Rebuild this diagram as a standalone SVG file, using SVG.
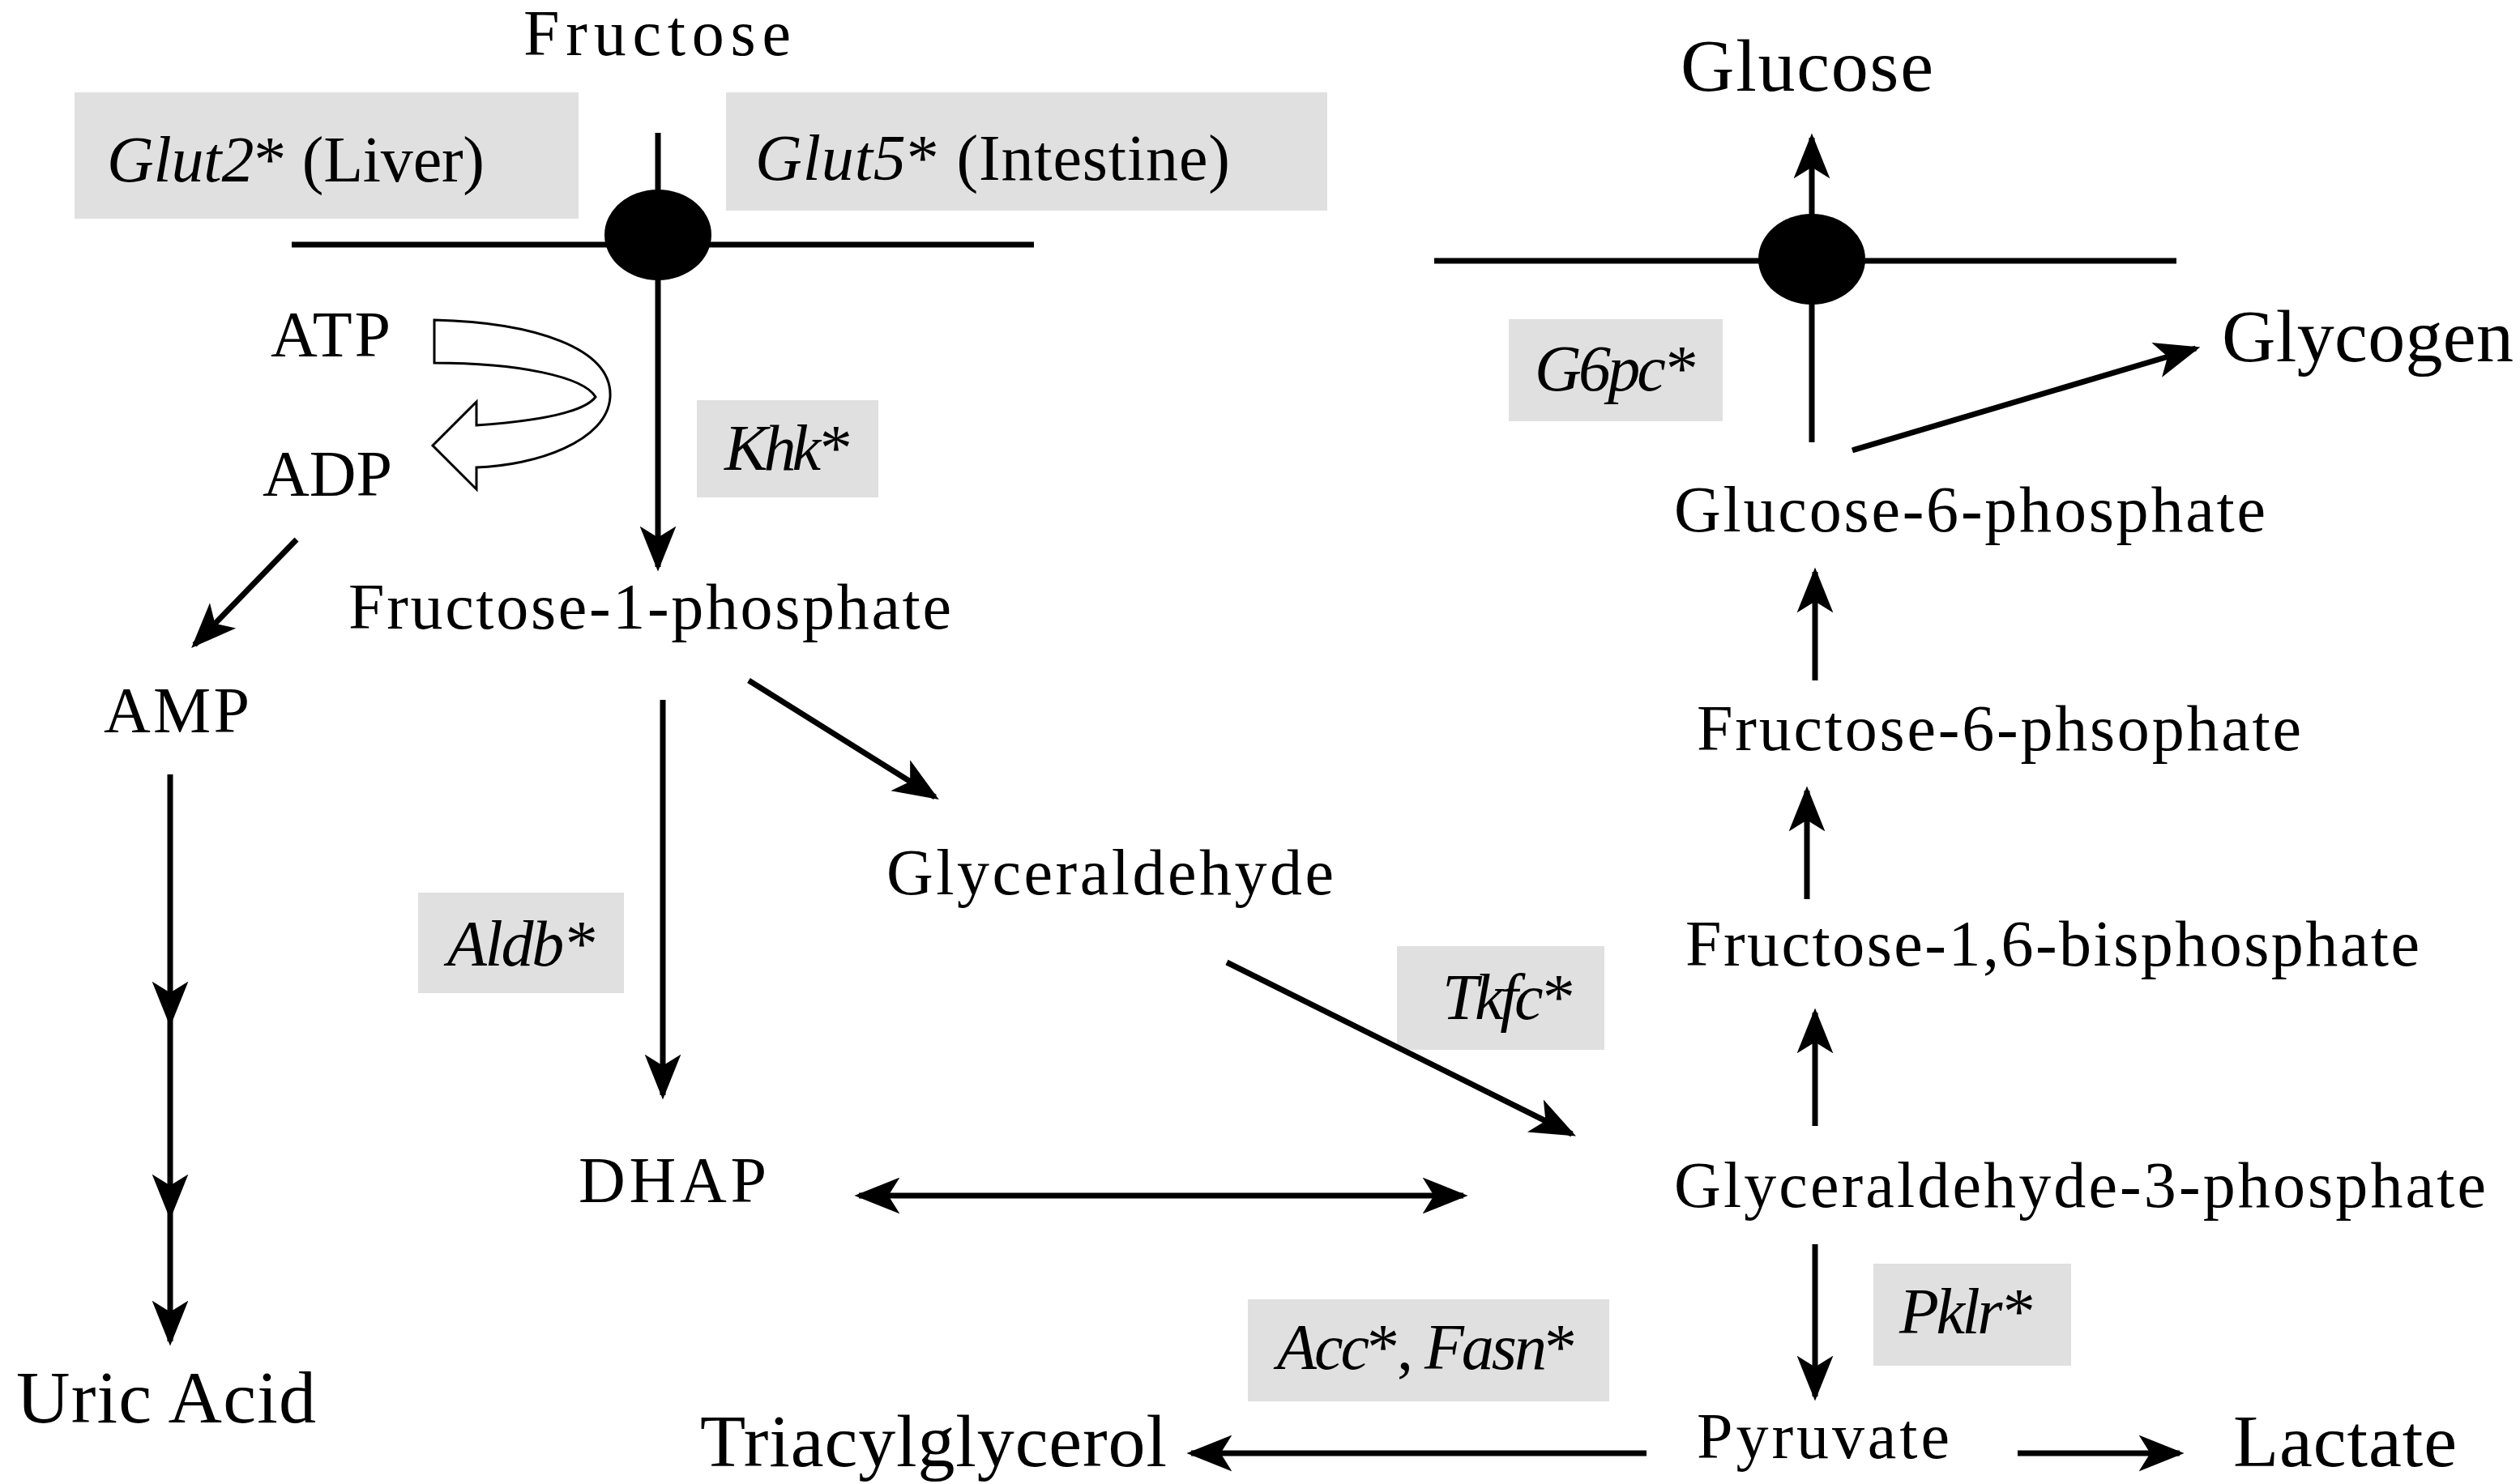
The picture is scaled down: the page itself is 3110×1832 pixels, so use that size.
<svg xmlns="http://www.w3.org/2000/svg" width="3110" height="1832" viewBox="0 0 3110 1832">
<style>
text{font-family:"Liberation Serif","DejaVu Serif",serif;fill:#000}
.m{font-size:80px}
.b{font-size:92px}
.i{font-style:italic}
.box{fill:#e0e0e0}
.ln{stroke:#000;stroke-width:7;fill:none}
</style>
<defs>
<marker id="ah" viewBox="0 0 20 20" refX="18" refY="10" markerWidth="8" markerHeight="8" markerUnits="strokeWidth" orient="auto-start-reverse">
<path d="M0,2 L20,10 L0,18 L5,10 Z" fill="#000"/>
</marker>
</defs>
<g id="boxes">
<rect id="glut2box" class="box" x="92" y="114" width="622" height="156"/>
<rect id="glut5box" class="box" x="896" y="114" width="742" height="146"/>
<rect id="khkbox" class="box" x="860" y="494" width="224" height="120"/>
<rect id="aldbbox" class="box" x="516" y="1102" width="254" height="124"/>
<rect id="tkfcbox" class="box" x="1724" y="1168" width="256" height="128"/>
<rect id="g6pcbox" class="box" x="1862" y="394" width="264" height="126"/>
<rect id="pklrbox" class="box" x="2312" y="1560" width="244" height="126"/>
<rect id="accbox" class="box" x="1540" y="1604" width="446" height="126"/>
</g>
<g id="membranes">
<line class="ln" x1="360" y1="302" x2="1276" y2="302"/>
<ellipse cx="812" cy="290" rx="66" ry="56"/>
<line class="ln" x1="1770" y1="322" x2="2686" y2="322"/>
<ellipse cx="2236" cy="320" rx="66" ry="56"/>
</g>
<g id="connectors">
<line class="ln" x1="812" y1="164" x2="812" y2="700" marker-end="url(#ah)"/>
<line class="ln" x1="366" y1="666" x2="240" y2="796" marker-end="url(#ah)"/>
<line class="ln" x1="210" y1="956" x2="210" y2="1262" marker-end="url(#ah)"/>
<line class="ln" x1="210" y1="1262" x2="210" y2="1500" marker-end="url(#ah)"/>
<line class="ln" x1="210" y1="1500" x2="210" y2="1656" marker-end="url(#ah)"/>
<line class="ln" x1="818" y1="864" x2="818" y2="1352" marker-end="url(#ah)"/>
<line class="ln" x1="924" y1="840" x2="1154" y2="984" marker-end="url(#ah)"/>
<line class="ln" x1="1514" y1="1188" x2="1940" y2="1400" marker-end="url(#ah)"/>
<line class="ln" x1="1060" y1="1476" x2="1806" y2="1476" marker-start="url(#ah)" marker-end="url(#ah)"/>
<line class="ln" x1="2240" y1="1390" x2="2240" y2="1250" marker-end="url(#ah)"/>
<line class="ln" x1="2230" y1="1110" x2="2230" y2="976" marker-end="url(#ah)"/>
<line class="ln" x1="2240" y1="840" x2="2240" y2="706" marker-end="url(#ah)"/>
<line class="ln" x1="2236" y1="546" x2="2236" y2="170" marker-end="url(#ah)"/>
<line class="ln" x1="2286" y1="556" x2="2710" y2="430" marker-end="url(#ah)"/>
<line class="ln" x1="2240" y1="1536" x2="2240" y2="1724" marker-end="url(#ah)"/>
<line class="ln" x1="2490" y1="1794" x2="2690" y2="1794" marker-end="url(#ah)"/>
<line class="ln" x1="2032" y1="1794" x2="1470" y2="1794" marker-end="url(#ah)"/>
<path id="atpadp" d="M536,395 C660,398 756,430 753,490 C750,545 660,575 588,577 L588,604 L534,550 L588,496 L588,525 C660,520 720,510 735,490 C720,465 640,448 536,448 Z" fill="#fff" stroke="#000" stroke-width="3"/>
</g>
<g id="labels">
<text id="fructose" class="m" x="646" y="68" textLength="330">Fructose</text>
<text id="glut2" class="m" x="132" y="224" textLength="466"><tspan class="i">Glut2</tspan>* (Liver)</text>
<text id="glut5" class="m" x="932" y="222" textLength="586"><tspan class="i">Glut5</tspan>* (Intestine)</text>
<text id="atp" class="m" x="334" y="440" textLength="148">ATP</text>
<text id="adp" class="m" x="324" y="612" textLength="160">ADP</text>
<text id="khk" class="m i" x="894" y="580" textLength="154">Khk*</text>
<text id="f1p" class="m" x="430" y="776" textLength="744">Fructose-1-phosphate</text>
<text id="amp" class="m" x="128" y="904" textLength="180">AMP</text>
<text id="uric" class="b" x="20" y="1756" textLength="370">Uric Acid</text>
<text id="aldb" class="m i" x="552" y="1192" textLength="182">Aldb*</text>
<text id="glyceraldehyde" class="m" x="1094" y="1104" textLength="552">Glyceraldehyde</text>
<text id="tkfc" class="m i" x="1780" y="1258" textLength="160">Tkfc*</text>
<text id="dhap" class="m" x="714" y="1484" textLength="232">DHAP</text>
<text id="g3p" class="m" x="2066" y="1490" textLength="1002">Glyceraldehyde-3-phosphate</text>
<text id="f16bp" class="m" x="2080" y="1192" textLength="906">Fructose-1,6-bisphosphate</text>
<text id="f6p" class="m" x="2094" y="926" textLength="746">Fructose-6-phsophate</text>
<text id="g6p" class="m" x="2066" y="656" textLength="730">Glucose-6-phosphate</text>
<text id="glucose" class="b" x="2074" y="112" textLength="312">Glucose</text>
<text id="g6pc" class="m i" x="1894" y="482" textLength="198">G6pc*</text>
<text id="glycogen" class="b" x="2742" y="446" textLength="360">Glycogen</text>
<text id="pklr" class="m i" x="2344" y="1646" textLength="164">Pklr*</text>
<text id="acc" class="m" x="1576" y="1690" textLength="370"><tspan class="i">Acc</tspan>*, <tspan class="i">Fasn</tspan>*</text>
<text id="pyruvate" class="m" x="2094" y="1800" textLength="312">Pyruvate</text>
<text id="lactate" class="b" x="2756" y="1810" textLength="276">Lactate</text>
<text id="tag" class="b" x="864" y="1810" textLength="576">Triacylglycerol</text>
</g>
</svg>
